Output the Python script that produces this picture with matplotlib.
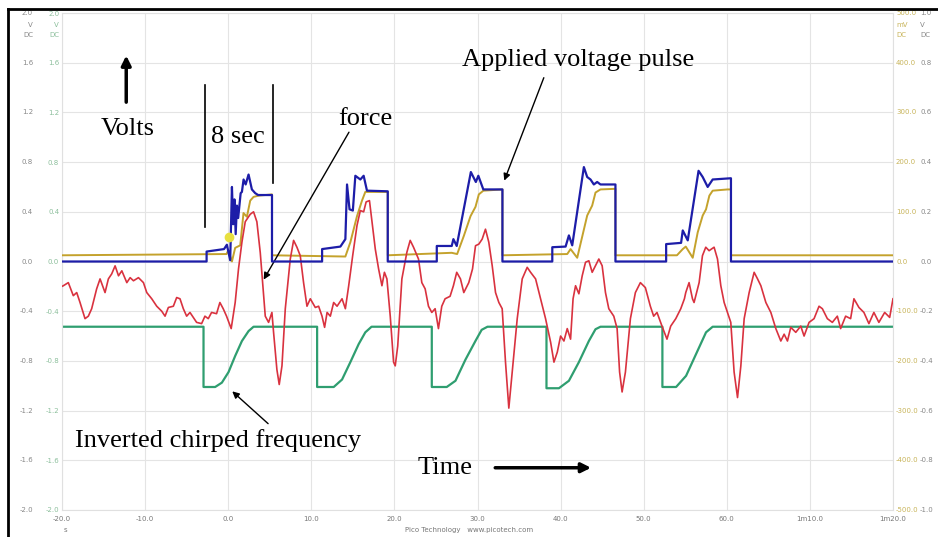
import numpy as np
import matplotlib.pyplot as plt
from matplotlib.lines import Line2D

# time in s, value in V
blue_pts = [(-20, 0.0), (-2.6, 0.0), (-2.6, 0.08), (-0.5, 0.10), (-0.16, 0.135), (0.24, 0.01),
            (0.45, 0.60), (0.6, 0.30), (0.75, 0.50), (0.9, 0.22), (1.05, 0.45), (1.2, 0.35),
            (1.5, 0.55), (1.65, 0.56), (1.85, 0.66), (2.1, 0.62), (2.45, 0.70), (2.85, 0.58),
            (3.25, 0.55), (3.6, 0.535), (5.27, 0.535), (5.27, 0.0),
            (11.3, 0.0), (11.3, 0.10), (13.5, 0.12), (14.1, 0.18), (14.3, 0.62), (14.6, 0.42),
            (15.0, 0.41), (15.3, 0.69), (15.9, 0.66), (16.3, 0.69), (16.7, 0.57), (19.2, 0.565),
            (19.2, 0.0),
            (25.1, 0.0), (25.1, 0.125), (26.9, 0.125), (27.1, 0.18), (27.5, 0.125), (29.2, 0.72),
            (29.8, 0.64), (30.1, 0.69), (30.7, 0.58), (33.0, 0.58), (33.0, 0.0),
            (39.0, 0.0), (39.0, 0.115), (40.6, 0.12), (41.0, 0.21), (41.4, 0.13), (42.8, 0.76),
            (43.2, 0.68), (43.6, 0.66), (44.0, 0.62), (44.4, 0.64), (44.8, 0.62), (46.6, 0.62),
            (46.6, 0.0),
            (52.7, 0.0), (52.7, 0.14), (54.5, 0.15), (54.7, 0.25), (55.3, 0.17), (56.6, 0.73),
            (57.1, 0.68), (57.7, 0.60), (58.3, 0.66), (60.5, 0.67), (60.5, 0.0), (80, 0.0)]

yellow_pts = [(-20, 0.05), (-0.2, 0.06), (0.0, 0.09), (0.45, 0.0), (0.84, 0.11), (1.45, 0.13),
              (1.84, 0.39), (2.25, 0.36), (2.65, 0.49), (3.05, 0.52), (3.65, 0.53), (5.27, 0.54),
              (5.27, 0.05),
              (14.1, 0.04), (14.7, 0.155), (15.1, 0.26), (15.5, 0.365), (16.1, 0.49), (16.5, 0.56),
              (19.2, 0.56), (19.2, 0.05),
              (26.9, 0.07), (27.55, 0.06), (28.35, 0.205), (29.16, 0.365), (29.76, 0.44),
              (30.16, 0.54), (30.7, 0.57), (33.0, 0.58), (33.0, 0.05),
              (40.8, 0.06), (41.2, 0.10), (42.0, 0.03), (42.6, 0.20), (43.2, 0.37), (43.8, 0.45),
              (44.2, 0.555), (44.8, 0.58), (46.6, 0.585), (46.6, 0.05),
              (54.0, 0.05), (54.7, 0.10), (55.06, 0.12), (55.9, 0.03), (56.5, 0.235), (57.1, 0.37),
              (57.5, 0.42), (57.9, 0.53), (58.3, 0.57), (60.1, 0.58), (60.5, 0.58), (60.5, 0.05),
              (80, 0.05)]

green_pts = [(-20, -0.525), (-2.97, -0.525), (-2.97, -1.01), (-1.57, -1.01), (-0.76, -0.975),
             (0.04, -0.89), (0.84, -0.76), (1.65, -0.64), (2.45, -0.56), (3.05, -0.525),
             (10.7, -0.525), (10.7, -1.01), (12.7, -1.01), (13.7, -0.95), (14.7, -0.81),
             (15.7, -0.665), (16.5, -0.57), (17.25, -0.525),
             (24.5, -0.525), (24.5, -1.01), (26.3, -1.01), (27.35, -0.96), (28.55, -0.79),
             (29.75, -0.64), (30.5, -0.55), (31.2, -0.525),
             (38.3, -0.525), (38.3, -1.02), (39.8, -1.02), (41.0, -0.96), (42.2, -0.81),
             (43.4, -0.64), (44.2, -0.545), (44.8, -0.525),
             (52.25, -0.525), (52.25, -1.01), (53.9, -1.01), (55.1, -0.92), (56.3, -0.745),
             (57.5, -0.57), (58.3, -0.525), (80, -0.525)]

red_pts = [(-20.0, -0.2), (-19.84, -0.195), (-19.24, -0.17), (-18.64, -0.275), (-18.23, -0.25),
           (-17.83, -0.33), (-17.23, -0.46), (-16.83, -0.44), (-16.43, -0.38), (-15.83, -0.22),
           (-15.42, -0.14), (-14.82, -0.25), (-14.42, -0.14), (-14.02, -0.10), (-13.61, -0.035),
           (-13.2, -0.115), (-12.8, -0.075), (-12.2, -0.17), (-11.8, -0.13), (-11.4, -0.155),
           (-10.8, -0.13), (-10.2, -0.17), (-9.8, -0.25), (-9.2, -0.30), (-8.6, -0.36),
           (-8.0, -0.40), (-7.6, -0.44), (-7.2, -0.37), (-6.6, -0.36), (-6.2, -0.29),
           (-5.8, -0.30), (-5.4, -0.38), (-5.0, -0.44), (-4.6, -0.41), (-4.2, -0.45),
           (-3.8, -0.49), (-3.2, -0.50), (-2.8, -0.44), (-2.4, -0.46), (-2.0, -0.41),
           (-1.4, -0.42), (-1.0, -0.33), (-0.6, -0.38), (-0.2, -0.44), (0.36, -0.54),
           (0.84, -0.33), (1.24, -0.06), (1.65, 0.155), (2.05, 0.32), (2.65, 0.38),
           (3.05, 0.40), (3.45, 0.32), (3.86, 0.07), (4.46, -0.44), (4.86, -0.49),
           (5.26, -0.41), (5.46, -0.57), (5.86, -0.87), (6.14, -0.99), (6.47, -0.84),
           (6.87, -0.38), (7.47, 0.02), (7.87, 0.17), (8.27, 0.115), (8.67, 0.047),
           (9.07, -0.17), (9.48, -0.36), (9.88, -0.30), (10.48, -0.37), (10.88, -0.36),
           (11.29, -0.44), (11.6, -0.53), (11.9, -0.41), (12.29, -0.44), (12.69, -0.33),
           (13.1, -0.36), (13.7, -0.30), (14.1, -0.38), (14.5, -0.195), (14.98, 0.047),
           (15.5, 0.29), (15.9, 0.41), (16.3, 0.40), (16.6, 0.48), (17.0, 0.49),
           (17.3, 0.32), (17.7, 0.10), (18.1, -0.06), (18.5, -0.195), (18.8, -0.087),
           (19.1, -0.14), (19.5, -0.44), (19.9, -0.81), (20.1, -0.84), (20.4, -0.68),
           (20.9, -0.14), (21.5, 0.074), (21.9, 0.17), (22.3, 0.115), (22.9, 0.02),
           (23.3, -0.17), (23.7, -0.22), (24.1, -0.36), (24.5, -0.41), (24.9, -0.38),
           (25.3, -0.54), (25.7, -0.36), (26.1, -0.30), (26.7, -0.28), (27.1, -0.195),
           (27.5, -0.087), (27.95, -0.14), (28.35, -0.25), (28.95, -0.17), (29.4, -0.06),
           (29.76, 0.127), (30.16, 0.14), (30.56, 0.18), (30.96, 0.26), (31.36, 0.155),
           (31.77, -0.034), (32.17, -0.25), (32.57, -0.33), (32.97, -0.38), (33.37, -0.81),
           (33.77, -1.18), (34.18, -0.89), (34.78, -0.46), (35.38, -0.14), (35.98, -0.047),
           (36.39, -0.087), (36.99, -0.14), (37.59, -0.30), (38.19, -0.46), (38.8, -0.65),
           (39.2, -0.81), (39.6, -0.73), (40.0, -0.60), (40.4, -0.64), (40.8, -0.54),
           (41.2, -0.625), (41.5, -0.30), (41.8, -0.195), (42.2, -0.26), (42.6, -0.115),
           (43.0, -0.006), (43.4, 0.006), (43.8, -0.087), (44.2, -0.034), (44.6, 0.02),
           (45.0, -0.034), (45.4, -0.25), (45.8, -0.38), (46.4, -0.44), (46.8, -0.54),
           (47.1, -0.89), (47.4, -1.05), (47.8, -0.89), (48.4, -0.46), (49.0, -0.25),
           (49.6, -0.17), (50.2, -0.21), (50.8, -0.36), (51.2, -0.44), (51.6, -0.41),
           (52.2, -0.52), (52.8, -0.625), (53.25, -0.52), (53.86, -0.46), (54.46, -0.38),
           (54.9, -0.30), (55.06, -0.25), (55.46, -0.17), (55.87, -0.30), (56.06, -0.33),
           (56.67, -0.17), (57.07, 0.047), (57.47, 0.115), (57.87, 0.087), (58.47, 0.115),
           (58.88, 0.02), (59.28, -0.195), (59.68, -0.33), (60.08, -0.41), (60.48, -0.49),
           (60.88, -0.89), (61.29, -1.095), (61.69, -0.84), (62.09, -0.46), (62.69, -0.25),
           (63.29, -0.087), (63.7, -0.14), (64.1, -0.195), (64.7, -0.33), (65.3, -0.41),
           (65.9, -0.54), (66.5, -0.64), (66.9, -0.585), (67.3, -0.64), (67.7, -0.53),
           (68.3, -0.57), (68.9, -0.52), (69.3, -0.60), (69.9, -0.49), (70.5, -0.46),
           (71.1, -0.36), (71.5, -0.38), (72.1, -0.46), (72.7, -0.49), (73.3, -0.44),
           (73.7, -0.54), (74.3, -0.44), (74.9, -0.46), (75.3, -0.30), (75.9, -0.37),
           (76.5, -0.41), (77.1, -0.50), (77.7, -0.41), (78.3, -0.49), (79.0, -0.41),
           (79.6, -0.45), (80.0, -0.30)]

trigger_pt = (0.04, 0.2)

x_ticks = [-20, -10, 0, 10, 20, 30, 40, 50, 60, 70, 80]
x_labels = ['-20.0', '-10.0', '0.0', '10.0', '20.0', '30.0', '40.0', '50.0', '60.0',
            '1m10.0', '1m20.0']
volt_ticks = [2.0, 1.6, 1.2, 0.8, 0.4, 0.0, -0.4, -0.8, -1.2, -1.6, -2.0]
mv_labels = ['500.0', '400.0', '300.0', '200.0', '100.0', '0.0', '-100.0', '-200.0',
             '-300.0', '-400.0', '-500.0']
v_right_labels = ['1.0', '0.8', '0.6', '0.4', '0.2', '0.0', '-0.2', '-0.4', '-0.6',
                  '-0.8', '-1.0']

W, H = 938, 537
fig = plt.figure(figsize=(W / 100, H / 100), dpi=100)
ax = fig.add_axes([62 / W, 1 - 510 / H, (893 - 62) / W, (510 - 13) / H])
ax.set_xlim(-20, 80)
ax.set_ylim(-2, 2)

for pts, col, lw, z in [(green_pts, '#2f9e70', 1.6, 2), (yellow_pts, '#c4a22c', 1.4, 3),
                        (red_pts, '#d9323f', 1.2, 4), (blue_pts, '#1d1da8', 1.6, 5)]:
    a = np.array(pts)
    ax.plot(a[:, 0], a[:, 1], color=col, lw=lw, zorder=z)
ax.plot(*trigger_pt, 'o', color='#e8e040', ms=6, zorder=6)

ax.grid(True, color='#e4e4e4', lw=0.8)
for s in ax.spines.values():
    s.set_color('#e0e0e0')
ax.tick_params(length=0)

ax.set_xticks(x_ticks)
ax.set_xticklabels(x_labels, fontsize=5, color='#777777')
ax.tick_params(axis='x', pad=4)
ax.set_yticks(volt_ticks)
ax.set_yticklabels(['%.1f' % v for v in volt_ticks], fontsize=5, color='#8cbf9c')
ax.tick_params(axis='y', pad=2)

tf = ('axes fraction', 'data')
small = dict(fontsize=5, textcoords='offset pixels', va='center', annotation_clip=False)
for v, ml, vl in zip(volt_ticks, mv_labels, v_right_labels):
    ax.annotate('%.1f' % v, xy=(0, v), xycoords=tf, xytext=(-29, 0), ha='right', color='#888888', **small)
    ax.annotate(ml, xy=(1, v), xycoords=tf, xytext=(3, 0), ha='left', color='#c8b45a', **small)
    ax.annotate(vl, xy=(1, v), xycoords=tf, xytext=(27, 0), ha='left', color='#888888', **small)

for txt, dy in [('V', -12), ('DC', -22)]:
    ax.annotate(txt, xy=(0, 2.0), xycoords=tf, xytext=(-29, dy), ha='right', color='#888888', **small)
    ax.annotate(txt, xy=(0, 2.0), xycoords=tf, xytext=(-3, dy), ha='right', color='#8cbf9c', **small)
    ax.annotate('mV' if txt == 'V' else txt, xy=(1, 2.0), xycoords=tf, xytext=(3, dy), ha='left',
                color='#c8b45a', **small)
    ax.annotate(txt, xy=(1, 2.0), xycoords=tf, xytext=(27, dy), ha='left', color='#888888', **small)

ax.annotate('s', xy=(0, 0), xycoords='axes fraction', xytext=(3, -20), ha='center',
            color='#777777', **small)
ax.annotate('Pico Technology   www.picotech.com', xy=(0.49, 0), xycoords='axes fraction',
            xytext=(0, -20), ha='center', color='#777777', **small)

# annotations
serif = dict(family='Liberation Serif', fontsize=19, color='black')
ax.text(-12.15, 1.07, 'Volts', ha='center', va='center', **serif)
ax.text(1.2, 1.0, '8 sec', ha='center', va='center', **serif)
ax.text(16.5, 1.15, 'force', ha='center', va='center', **serif)
ax.text(42.1, 1.62, 'Applied voltage pulse', ha='center', va='center', **serif)
ax.text(-1.2, -1.44, 'Inverted chirped frequency', ha='center', va='center', **serif)
ax.text(26.1, -1.66, 'Time', ha='center', va='center', **serif)

ax.plot([-2.77, -2.77], [1.42, 0.28], color='black', lw=1.2, zorder=7)
ax.plot([5.4, 5.4], [1.42, 0.63], color='black', lw=1.2, zorder=7)

thin = dict(arrowstyle='-|>', color='black', lw=1.0, mutation_scale=10)
thick = dict(arrowstyle='-|>', color='black', lw=2.5, mutation_scale=14)
ax.annotate('', xy=(-12.27, 1.68), xytext=(-12.27, 1.26), arrowprops=thick)
ax.annotate('', xy=(44.0, -1.66), xytext=(31.8, -1.66), arrowprops=thick)
ax.annotate('', xy=(4.1, -0.165), xytext=(14.7, 1.06), arrowprops=thin)
ax.annotate('', xy=(33.1, 0.63), xytext=(38.1, 1.5), arrowprops=thin)
ax.annotate('', xy=(0.24, -1.03), xytext=(5.05, -1.32), arrowprops=thin)

# screenshot frame
fig.add_artist(Line2D([8 / W, 8 / W], [0, 1 - 9 / H], color='black', lw=2))
fig.add_artist(Line2D([8 / W, 1], [1 - 9 / H, 1 - 9 / H], color='black', lw=2))

fig.savefig('out.png', dpi=100)
